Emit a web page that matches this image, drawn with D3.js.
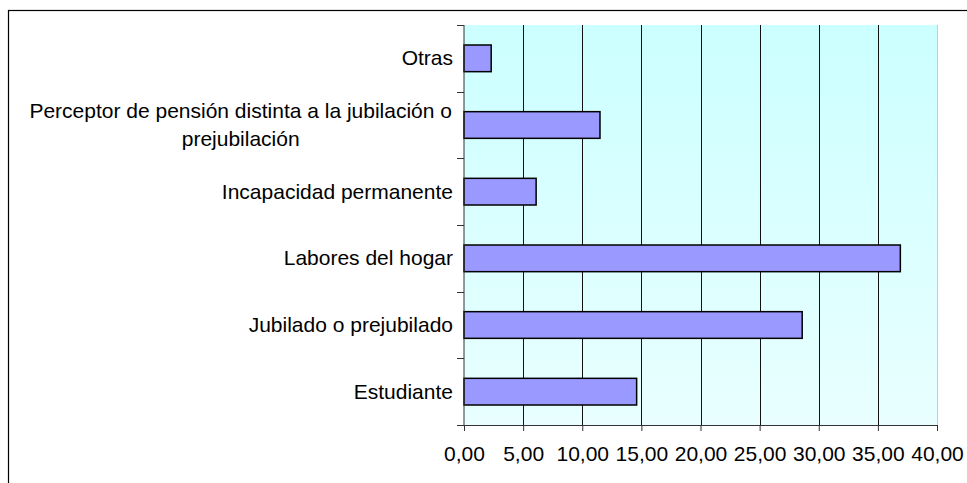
<!DOCTYPE html>
<html><head><meta charset="utf-8">
<script src="https://cdn.jsdelivr.net/npm/d3@7/dist/d3.min.js"></script>
<style>body{margin:0;background:#fff}svg{display:block}text{font-family:"Liberation Sans",Arial,sans-serif;fill:#000}</style>
</head><body>
<script>
const categories = ["Otras", "Perceptor de pensión distinta a la jubilación o|prejubilación", "Incapacidad permanente", "Labores del hogar", "Jubilado o prejubilado", "Estudiante"];
const values = [2.3, 11.5, 6.1, 36.9, 28.6, 14.6];
const tickValues = [0, 5, 10, 15, 20, 25, 30, 35, 40];
const tickLabels = ["0,00", "5,00", "10,00", "15,00", "20,00", "25,00", "30,00", "35,00", "40,00"];

const W = 967, H = 483;
const L = 464, R = 937, T = 25, B = 425;
const FS = 21;
const svg = d3.select("body").append("svg").attr("width", W).attr("height", H);
const defs = svg.append("defs");
const g = defs.append("linearGradient").attr("id", "bg").attr("x1", 0).attr("y1", 0).attr("x2", 0).attr("y2", 1);
g.append("stop").attr("offset", "0%").attr("stop-color", "#CCFFFF");
g.append("stop").attr("offset", "100%").attr("stop-color", "#E9FFFF");

// outer frame
svg.append("rect").attr("x", 8.5).attr("y", 10.5).attr("width", 1000).attr("height", 1000)
  .attr("fill", "none").attr("stroke", "#000").attr("stroke-width", 1.2);

const x = d3.scaleLinear().domain([0, 40]).range([L, R]);
const y = d3.scaleBand().domain(categories).range([T, B]).paddingInner(0.6).paddingOuter(0.3);
const yb = d3.scaleBand().domain(categories).range([T, B]);

svg.append("rect").attr("x", L).attr("y", T).attr("width", R - L).attr("height", B - T).attr("fill", "url(#bg)");
svg.append("line").attr("x1", R + 0.5).attr("x2", R + 0.5).attr("y1", T).attr("y2", B).attr("stroke", "#A8D8D8");

// gridlines
svg.append("g").selectAll("line").data(tickValues.filter(d => d > 0 && d < 40)).join("line")
  .attr("x1", d => Math.round(x(d)) + 0.5).attr("x2", d => Math.round(x(d)) + 0.5)
  .attr("y1", T).attr("y2", B).attr("stroke", "#111").attr("stroke-width", 1);

// bars
svg.append("g").selectAll("rect").data(values).join("rect")
  .attr("x", x(0)).attr("y", (d, i) => y(categories[i]))
  .attr("width", d => x(d) - x(0)).attr("height", y.bandwidth())
  .attr("fill", "#9999FF").attr("stroke", "#000").attr("stroke-width", 1.5);

// x axis
const xa = svg.append("g").attr("transform", `translate(0,${B})`)
  .call(d3.axisBottom(x).tickValues(tickValues).tickFormat((d, i) => tickLabels[i]).tickSize(6).tickSizeOuter(0));
xa.select(".domain").attr("stroke", "#333");
xa.selectAll(".tick line").attr("stroke", "#333");
xa.selectAll(".tick text").attr("font-size", FS).attr("font-family", "Liberation Sans, Arial, sans-serif").attr("dy", null).attr("y", 36);

// y axis
const ya = svg.append("g").attr("transform", `translate(${L},0)`);
ya.append("line").attr("x1", 0).attr("x2", 0).attr("y1", T).attr("y2", B).attr("stroke", "#333");
const bounds = categories.map(c => yb(c)).concat([B]);
ya.selectAll("line.t").data(bounds).join("line").attr("class", "t")
  .attr("x1", -7).attr("x2", 0).attr("y1", d => Math.round(d) + 0.5).attr("y2", d => Math.round(d) + 0.5).attr("stroke", "#333");
ya.selectAll("text.c").data(categories).join("text").attr("class", "c")
  .attr("font-size", FS)
  .each(function(c) {
    const lines = c.split("|");
    const t = d3.select(this);
    const cy = yb(c) + yb.bandwidth() / 2;
    const lh = 28;
    if (lines.length === 1) {
      t.attr("x", -11).attr("y", cy + 7).attr("text-anchor", "end").text(lines[0]);
    } else {
      t.attr("text-anchor", "middle");
      const spans = lines.map((ln, k) => t.append("tspan").attr("y", cy + 7 + (k - (lines.length - 1) / 2) * lh).text(ln));
      const w = d3.max(spans, s => s.node().getComputedTextLength());
      spans.forEach(s => s.attr("x", -12 - w / 2));
    }
  });
</script>
</body></html>
